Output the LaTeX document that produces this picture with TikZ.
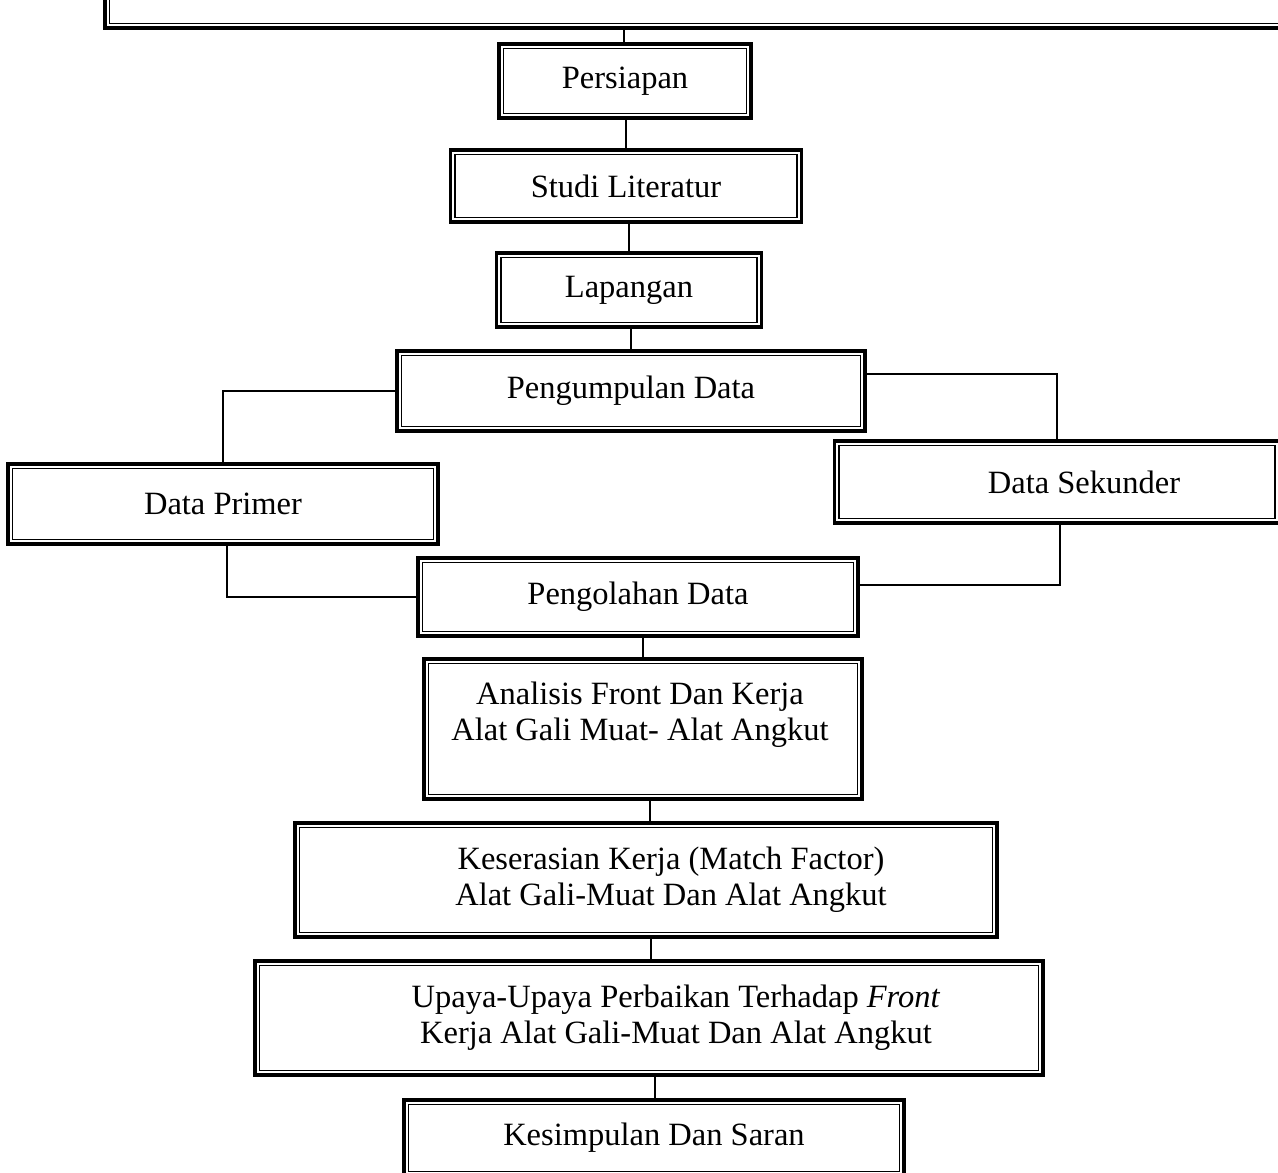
\documentclass[tikz,border=0pt]{standalone}
\usepackage{fontspec}
\setmainfont{Liberation Serif}
\begin{document}
\begin{tikzpicture}[x=1pt,y=-1pt,
  box/.style={draw, line width=3.2pt, inner sep=0pt, align=center,
    font=\fontsize{32.5}{36}\selectfont},
  inner/.style={line width=1.6pt},
  conn/.style={line width=2pt}]
\useasboundingbox (0,0) rectangle (1278,1173);
\fill[white] (0,0) rectangle (1278,1173);

\node[box, minimum width=1190, minimum height=80] (top) at (700,-12) {};
\node[box, minimum width=252, minimum height=74] (p1) at (625,81) {Persiapan};
\node[box, minimum width=351, minimum height=72] (p2) at (626,186) {Studi Literatur};
\node[box, minimum width=265, minimum height=74] (p3) at (629,290) {Lapangan};
\node[box, minimum width=468, minimum height=80] (p4) at (631,391) {Pengumpulan Data};
\node[box, minimum width=430, minimum height=80] (dp) at (223,504) {Data Primer};
\node[box, minimum width=445, minimum height=82] (ds) at (1057,482) {\hspace*{54pt}Data Sekunder};
\node[box, minimum width=440, minimum height=78] (p5) at (638,597) {Pengolahan Data};
\node[box, minimum width=438, minimum height=140] (p6) at (643,729) {};
\node[font=\fontsize{32.5}{36}\selectfont, align=center] (t6) at (640,715) {Analisis Front Dan Kerja\\Alat Gali Muat- Alat Angkut};
\node[box, minimum width=702, minimum height=114] (p7) at (646,880) {\hspace*{50pt}Keserasian Kerja (Match Factor)\\\hspace*{50pt}Alat Gali-Muat Dan Alat Angkut};
\node[box, minimum width=788, minimum height=114] (p8) at (649,1018) {\hspace*{54pt}Upaya-Upaya Perbaikan Terhadap \textit{Front}\\\hspace*{54pt}Kerja Alat Gali-Muat Dan Alat Angkut};
\node[box, minimum width=500, minimum height=76] (p9) at (654,1138) {Kesimpulan Dan Saran};

\foreach \n in {top,p1,p2,p3,p4,dp,ds,p5,p6,p7,p8,p9}
  \draw[inner] ([shift={(6pt,-6pt)}]\n.north west) rectangle ([shift={(-6pt,6pt)}]\n.south east);

\draw[conn] (top.south -| p1.north) ++(-1,0) -- ([xshift=-1pt]p1.north);
\draw[conn] (p1.south -| p2.north) -- (p2.north);
\draw[conn] (p2.south -| p3.north) -- (p3.north);
\draw[conn] (p3.south -| p4.north) -- (p4.north);
\draw[conn] (p4.west) -- (p4.west -| dp.north) -- (dp.north);
\draw[conn] ([yshift=-25pt]p4.north east) -- ([yshift=-25pt]p4.north east -| ds.north) -- (ds.north);
\draw[conn] ([xshift=4pt]dp.south) |- (p5.west);
\draw[conn] ([xshift=3pt]ds.south) |- ([yshift=12pt]p5.east);
\draw[conn] (p5.south -| p6.north) -- (p6.north);
\draw[conn] ([xshift=7pt]p6.south) -- ([xshift=7pt]p6.south |- p7.north);
\draw[conn] ([xshift=5pt]p7.south) -- ([xshift=5pt]p7.south |- p8.north);
\draw[conn] ([xshift=6pt]p8.south) -- ([xshift=6pt]p8.south |- p9.north);
\end{tikzpicture}
\end{document}
